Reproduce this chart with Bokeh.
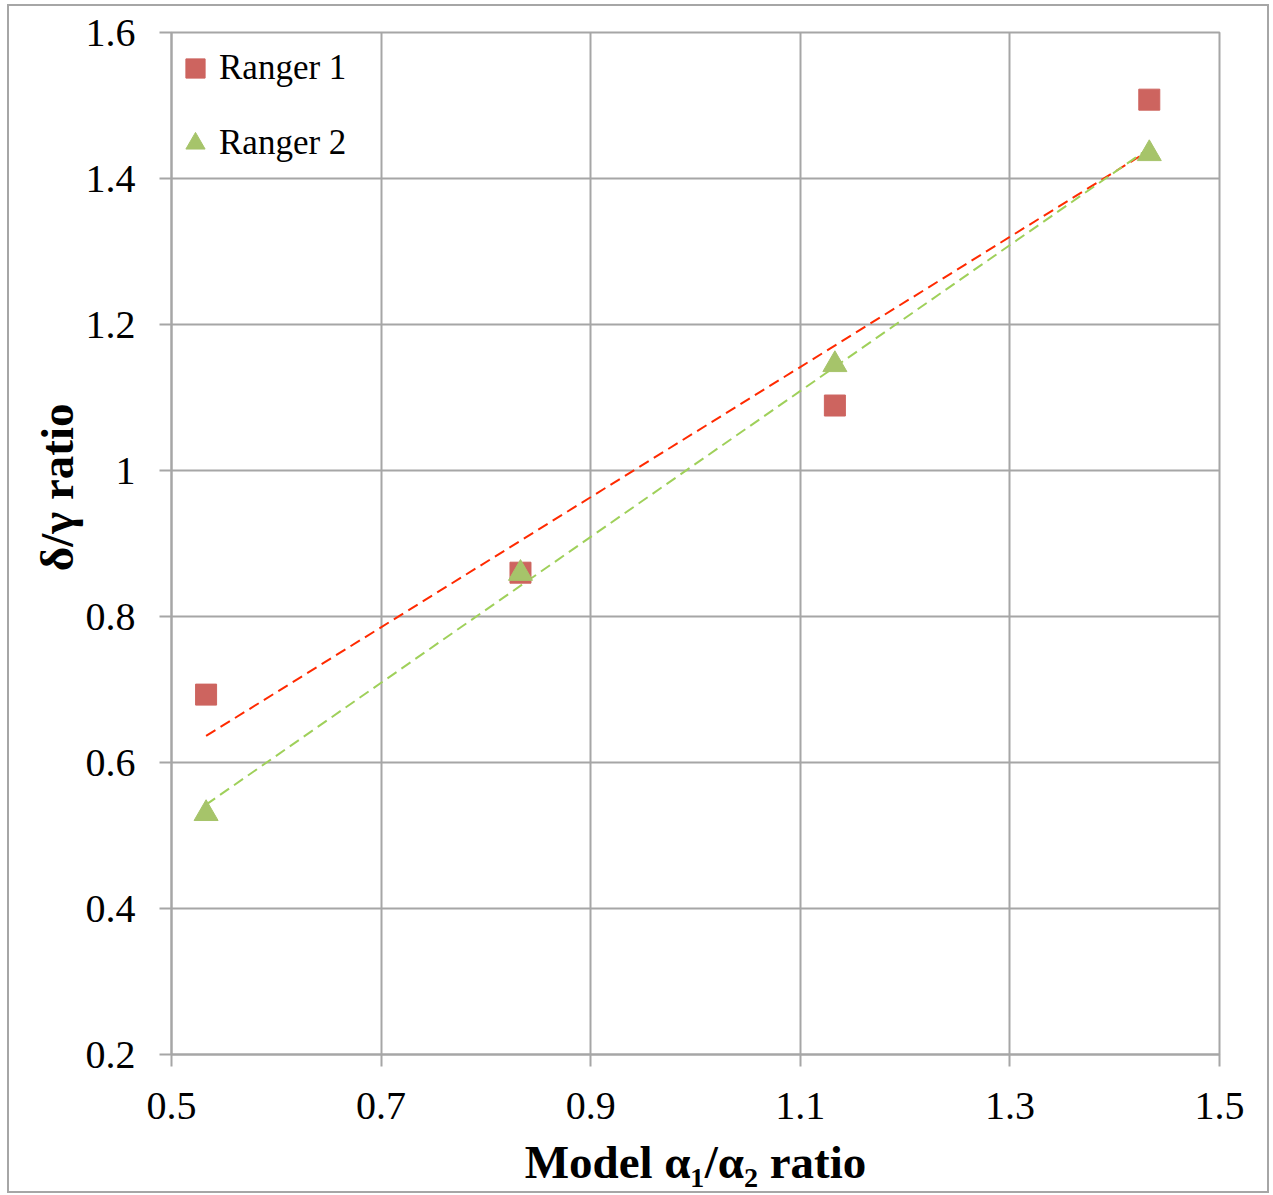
import numpy as np
from bokeh.plotting import figure
from bokeh.models import (Range1d, FixedTicker, Legend, LegendItem, Title)
from bokeh.embed import file_html
from bokeh.resources import INLINE

# ---- data ----
series_names = ["Ranger 1", "Ranger 2"]
ranger1_x = [0.533, 0.833, 1.133, 1.433]
ranger1_y = [0.693, 0.860, 1.089, 1.508]
ranger2_x = [0.533, 0.833, 1.133, 1.433]
ranger2_y = [0.530, 0.859, 1.145, 1.434]

x_ticks = [0.5, 0.7, 0.9, 1.1, 1.3, 1.5]
x_tick_labels = ["0.5", "0.7", "0.9", "1.1", "1.3", "1.5"]
y_ticks = [0.2, 0.4, 0.6, 0.8, 1.0, 1.2, 1.4, 1.6]
y_tick_labels = ["0.2", "0.4", "0.6", "0.8", "1", "1.2", "1.4", "1.6"]

x_title = "Model α\u2081/α\u2082 ratio"
y_title = "δ/γ ratio"

# ---- styles ----
W, H = 1273, 1195
GRID = "#a6a6a6"
RED = "#CD645F"
GREEN = "#A6C46A"
RED_LINE = "#FF2A00"
GREEN_LINE = "#9FD05A"
SERIF = "Liberation Serif"

p = figure(width=W, height=H, output_backend="svg", toolbar_location=None,
           x_range=Range1d(0.5, 1.5), y_range=Range1d(0.2, 1.6),
           min_border_left=171, min_border_right=54,
           min_border_top=32, min_border_bottom=141)
p.background_fill_color = "white"
p.border_fill_color = "white"
p.border_fill_alpha = 0.0
p.outline_line_color = GRID
p.outline_line_width = 2

# outer chart frame, drawn as the page background behind the transparent border
g = f"linear-gradient({GRID},{GRID})"
p.styles = {
    "background-color": "white",
    "background-image": f"{g}, {g}, {g}, {g}",
    "background-position": "7px 4px, 1267px 4px, 7px 4px, 7px 1191px",
    "background-size": "2px 1189px, 2px 1189px, 1262px 2px, 1262px 2px",
    "background-repeat": "no-repeat",
}

for ax, ticks, labels in ((p.xaxis, x_ticks, x_tick_labels),
                          (p.yaxis, y_ticks, y_tick_labels)):
    ax.ticker = FixedTicker(ticks=ticks)
    ax.major_label_overrides = dict(zip(ticks, labels))
    ax.axis_line_color = GRID
    ax.axis_line_width = 2
    ax.major_tick_line_color = GRID
    ax.major_tick_line_width = 2
    ax.major_tick_out = 12
    ax.major_tick_in = 0
    ax.minor_tick_line_color = None
    ax.major_label_text_font = SERIF
    ax.major_label_text_font_size = "40px"
    ax.major_label_text_color = "black"

p.xaxis.major_label_standoff = 26
p.yaxis.major_label_standoff = 24
p.xaxis.axis_label = x_title
p.xaxis.axis_label_text_font = SERIF
p.xaxis.axis_label_text_font_style = "bold"
p.xaxis.axis_label_text_font_size = "47px"
p.xaxis.axis_label_text_color = "black"
p.xaxis.axis_label_standoff = 14

p.xgrid.grid_line_color = GRID
p.xgrid.grid_line_width = 2
p.ygrid.grid_line_color = GRID
p.ygrid.grid_line_width = 2

# trendlines (least squares fit of each series)
for xs, ys, col in ((ranger1_x, ranger1_y, RED_LINE),
                    (ranger2_x, ranger2_y, GREEN_LINE)):
    k, b = np.polyfit(xs, ys, 1)
    tx = [min(xs), max(xs)]
    ty = [k * v + b for v in tx]
    p.line(tx, ty, line_color=col, line_width=2, line_dash="11 6")

r1 = p.scatter(ranger1_x, ranger1_y, marker="square", size=21,
               fill_color=RED, line_color=RED)
r2 = p.scatter(ranger2_x, ranger2_y, marker="triangle", size=24,
               fill_color=GREEN, line_color=GREEN)

legend = Legend(items=[LegendItem(label=series_names[0], renderers=[r1]),
                       LegendItem(label=series_names[1], renderers=[r2])],
                location="top_left", margin=0, padding=0, spacing=3,
                glyph_width=48, glyph_height=72, label_standoff=0,
                label_text_font=SERIF, label_text_font_size="35px",
                label_text_color="black",
                background_fill_alpha=0.0,
                border_line_color=None, border_line_alpha=0)
p.add_layout(legend)

ytitle = Title(text=y_title, align="right", offset=371,
               text_font=SERIF, text_font_style="bold",
               text_font_size="47px", text_color="black",
               standoff=0)
p.add_layout(ytitle, "left")

open("out.html", "w").write(file_html(p, INLINE))
